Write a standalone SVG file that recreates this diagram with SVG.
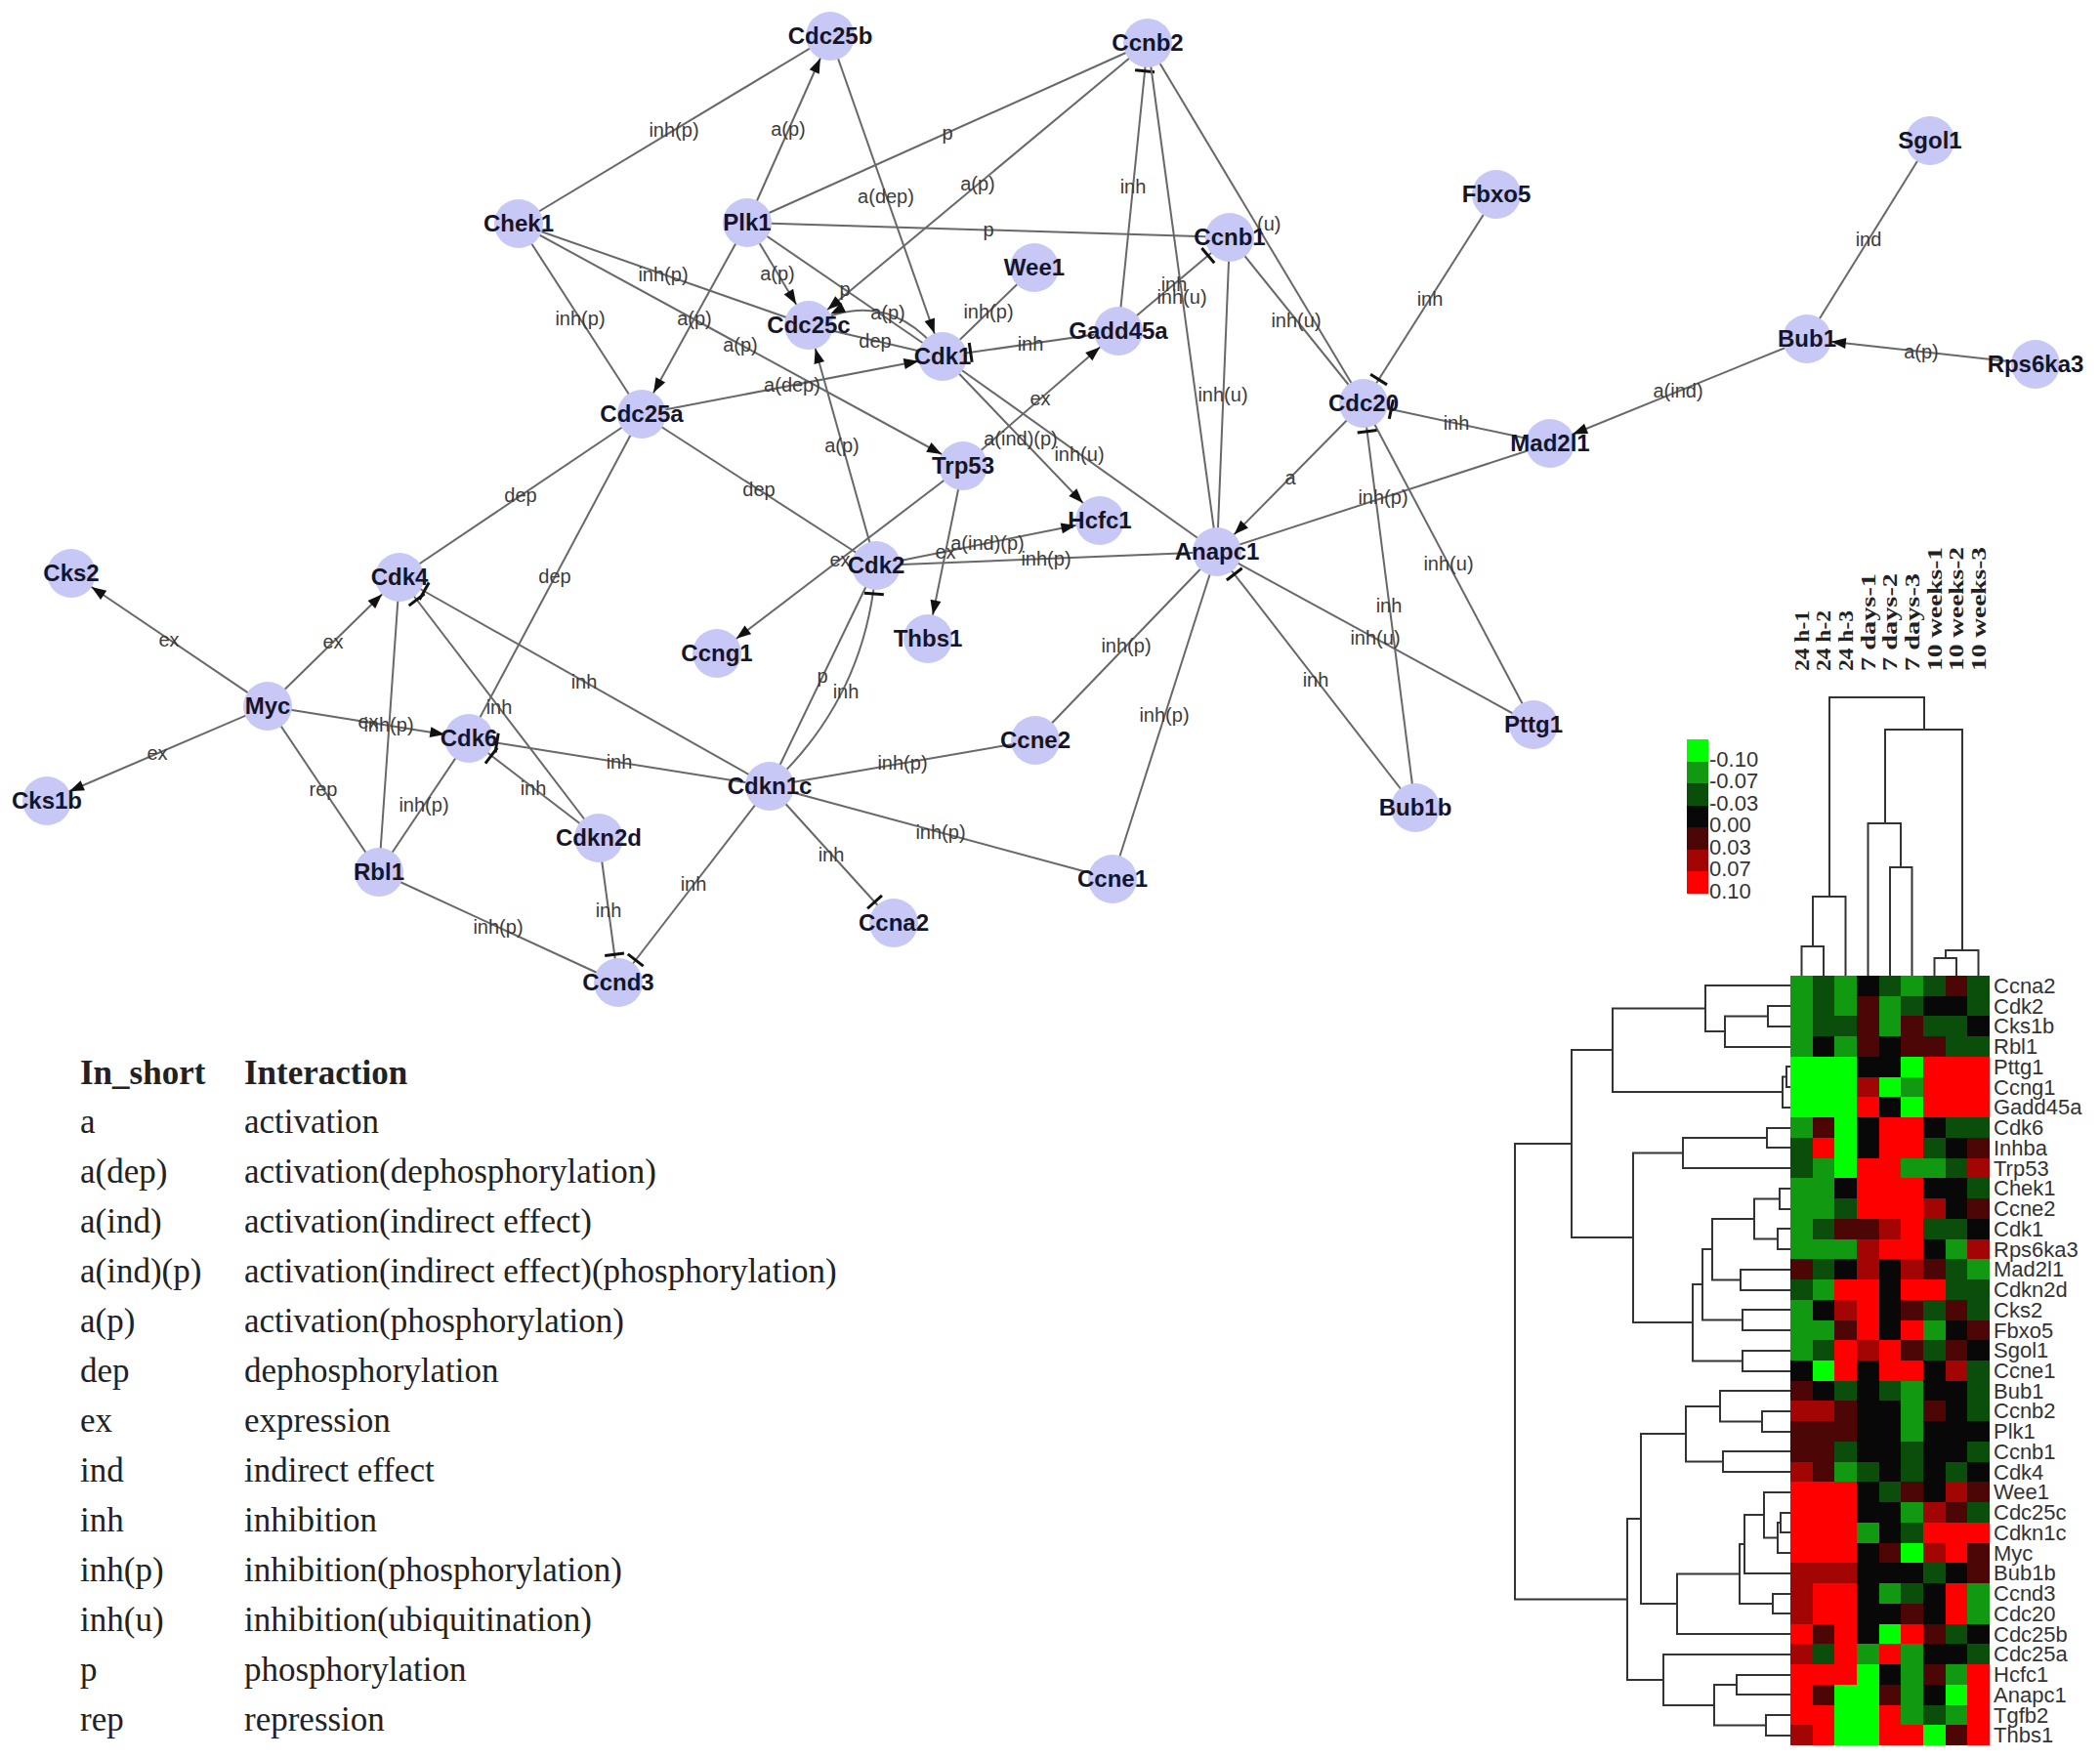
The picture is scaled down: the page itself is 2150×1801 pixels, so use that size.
<svg xmlns="http://www.w3.org/2000/svg" xmlns:xlink="http://www.w3.org/1999/xlink" width="2150" height="1801" viewBox="0 0 2150 1801">
<style>
.e{fill:none;stroke:#686868;stroke-width:2}
.el{font-family:"Liberation Sans",Arial,sans-serif;font-size:20px;fill:#3c3c3c;text-anchor:middle}
.nd{fill:#c8c8f6}
.nl{font-family:"Liberation Sans",Arial,sans-serif;font-size:24px;font-weight:bold;fill:#15152a;text-anchor:middle}
.lg{font-family:"Liberation Serif","Times New Roman",serif;font-size:35px;fill:#222}
.lgh{font-weight:bold}
.rl{font-family:"Liberation Sans",Arial,sans-serif;font-size:22px;fill:#333}
.cl{font-family:"Liberation Serif","Times New Roman",serif;font-size:22px;font-weight:bold;fill:#222}
.sl{font-family:"Liberation Sans",Arial,sans-serif;font-size:22px;fill:#333}
.dg{fill:none;stroke:#333;stroke-width:2}
.g3{fill:#00ff00}.g2{fill:#119a11}.g1{fill:#0b4d0b}.k{fill:#080808}.r1{fill:#4d0606}.r2{fill:#a30404}.r3{fill:#ff0000}
</style>
<defs>
<marker id="ar" markerUnits="userSpaceOnUse" markerWidth="15" markerHeight="11" refX="40" refY="5.5" orient="auto" overflow="visible"><path d="M0,0 L15,5.5 L0,11 z" fill="#111"/></marker>
<marker id="tb" markerUnits="userSpaceOnUse" markerWidth="4" markerHeight="20" refX="29" refY="10" orient="auto" overflow="visible"><path d="M0,0 V20" stroke="#111" stroke-width="3" fill="none"/></marker>
<rect id="c" width="23" height="21"/>
</defs>

<g id="connectors">
<path class="e" d="M531,229 L850,37"/>
<path class="e" d="M765,228 L850,37" marker-end="url(#ar)"/>
<path class="e" d="M850,37 L965,365" marker-end="url(#ar)"/>
<path class="e" d="M765,228 L1175,44"/>
<path class="e" d="M1175,44 L828,333" marker-end="url(#ar)"/>
<path class="e" d="M1145,339 L1175,44" marker-end="url(#tb)"/>
<path class="e" d="M1175,44 L1246,565"/>
<path class="e" d="M1175,44 L1396,413"/>
<path class="e" d="M765,228 L1259,243"/>
<path class="e" d="M1145,339 L1259,243" marker-end="url(#tb)"/>
<path class="e" d="M1259,243 L1246,565"/>
<path class="e" d="M1259,243 L1396,413"/>
<path class="e" d="M531,229 L828,333"/>
<path class="e" d="M531,229 L986,477" marker-end="url(#ar)"/>
<path class="e" d="M531,229 L657,424"/>
<path class="e" d="M765,228 L657,424" marker-end="url(#ar)"/>
<path class="e" d="M765,228 L828,333" marker-end="url(#ar)"/>
<path class="e" d="M765,228 L965,365"/>
<path class="e" d="M965,365 Q910,291 828,333" marker-end="url(#ar)"/>
<path class="e" d="M828,333 L965,365"/>
<path class="e" d="M1059,274 L965,365"/>
<path class="e" d="M1145,339 L965,365" marker-end="url(#tb)"/>
<path class="e" d="M657,424 L965,365" marker-end="url(#ar)"/>
<path class="e" d="M965,365 L1126,533" marker-end="url(#ar)"/>
<path class="e" d="M965,365 L1246,565"/>
<path class="e" d="M986,477 L1145,339" marker-end="url(#ar)"/>
<path class="e" d="M657,424 L897,579"/>
<path class="e" d="M897,579 L828,333" marker-end="url(#ar)"/>
<path class="e" d="M986,477 L734,669" marker-end="url(#ar)"/>
<path class="e" d="M986,477 L950,654" marker-end="url(#ar)"/>
<path class="e" d="M897,579 L1126,533" marker-end="url(#ar)"/>
<path class="e" d="M897,579 L1246,565"/>
<path class="e" d="M788,805 L897,579"/>
<path class="e" d="M788,805 Q887,714 897,579" marker-end="url(#tb)"/>
<path class="e" d="M657,424 L409,591"/>
<path class="e" d="M657,424 L480,756"/>
<path class="e" d="M274,723 L73,587" marker-end="url(#ar)"/>
<path class="e" d="M274,723 L409,591" marker-end="url(#ar)"/>
<path class="e" d="M274,723 L48,820" marker-end="url(#ar)"/>
<path class="e" d="M274,723 L480,756" marker-end="url(#ar)"/>
<path class="e" d="M409,591 L388,893"/>
<path class="e" d="M274,723 L388,893"/>
<path class="e" d="M388,893 L480,756"/>
<path class="e" d="M788,805 L409,591" marker-end="url(#tb)"/>
<path class="e" d="M613,858 L409,591" marker-end="url(#tb)"/>
<path class="e" d="M788,805 L480,756" marker-end="url(#tb)"/>
<path class="e" d="M613,858 L480,756" marker-end="url(#tb)"/>
<path class="e" d="M613,858 L633,1006" marker-end="url(#tb)"/>
<path class="e" d="M788,805 L633,1006" marker-end="url(#tb)"/>
<path class="e" d="M388,893 L633,1006"/>
<path class="e" d="M788,805 L1060,758"/>
<path class="e" d="M788,805 L1139,900"/>
<path class="e" d="M788,805 L915,945" marker-end="url(#tb)"/>
<path class="e" d="M1246,565 L1060,758"/>
<path class="e" d="M1246,565 L1139,900"/>
<path class="e" d="M1449,827 L1246,565" marker-end="url(#tb)"/>
<path class="e" d="M1246,565 L1570,742"/>
<path class="e" d="M1396,413 L1246,565" marker-end="url(#ar)"/>
<path class="e" d="M1587,454 L1246,565"/>
<path class="e" d="M1587,454 L1396,413" marker-end="url(#tb)"/>
<path class="e" d="M1532,199 L1396,413" marker-end="url(#tb)"/>
<path class="e" d="M1396,413 L1570,742"/>
<path class="e" d="M1449,827 L1396,413" marker-end="url(#tb)"/>
<path class="e" d="M1850,347 L1587,454" marker-end="url(#ar)"/>
<path class="e" d="M2084,373 L1850,347" marker-end="url(#ar)"/>
<path class="e" d="M1976,144 L1850,347"/>

<g id="edge-labels">
<text class="el" x="690" y="140">inh(p)</text>
<text class="el" x="807" y="139">a(p)</text>
<text class="el" x="907" y="208">a(dep)</text>
<text class="el" x="970" y="143">p</text>
<text class="el" x="1001" y="195">a(p)</text>
<text class="el" x="1160" y="198">inh</text>
<text class="el" x="1210" y="311">inh(u)</text>
<text class="el" x="1287" y="236" style="text-anchor:start">(u)</text>
<text class="el" x="1012" y="242">p</text>
<text class="el" x="1202" y="298">inh</text>
<text class="el" x="1252" y="411">inh(u)</text>
<text class="el" x="1327" y="335">inh(u)</text>
<text class="el" x="679" y="288">inh(p)</text>
<text class="el" x="758" y="360">a(p)</text>
<text class="el" x="594" y="333">inh(p)</text>
<text class="el" x="711" y="333">a(p)</text>
<text class="el" x="796" y="287">a(p)</text>
<text class="el" x="865" y="303">p</text>
<text class="el" x="909" y="327">a(p)</text>
<text class="el" x="896" y="356">dep</text>
<text class="el" x="1012" y="326">inh(p)</text>
<text class="el" x="1055" y="359">inh</text>
<text class="el" x="811" y="401">a(dep)</text>
<text class="el" x="1045" y="456">a(ind)(p)</text>
<text class="el" x="1105" y="472">inh(u)</text>
<text class="el" x="1065" y="415">ex</text>
<text class="el" x="777" y="508">dep</text>
<text class="el" x="862" y="463">a(p)</text>
<text class="el" x="860" y="580">ex</text>
<text class="el" x="968" y="572">ex</text>
<text class="el" x="1011" y="563">a(ind)(p)</text>
<text class="el" x="1071" y="579">inh(p)</text>
<text class="el" x="842" y="699">p</text>
<text class="el" x="866" y="715">inh</text>
<text class="el" x="533" y="514">dep</text>
<text class="el" x="568" y="597">dep</text>
<text class="el" x="173" y="662">ex</text>
<text class="el" x="341" y="664">ex</text>
<text class="el" x="161" y="778">ex</text>
<text class="el" x="377" y="746">ex</text>
<text class="el" x="398" y="749">inh(p)</text>
<text class="el" x="331" y="815">rep</text>
<text class="el" x="434" y="831">inh(p)</text>
<text class="el" x="598" y="705">inh</text>
<text class="el" x="511" y="731">inh</text>
<text class="el" x="634" y="787">inh</text>
<text class="el" x="546" y="814">inh</text>
<text class="el" x="623" y="939">inh</text>
<text class="el" x="710" y="912">inh</text>
<text class="el" x="510" y="956">inh(p)</text>
<text class="el" x="924" y="788">inh(p)</text>
<text class="el" x="963" y="859">inh(p)</text>
<text class="el" x="851" y="882">inh</text>
<text class="el" x="1153" y="668">inh(p)</text>
<text class="el" x="1192" y="739">inh(p)</text>
<text class="el" x="1347" y="703">inh</text>
<text class="el" x="1408" y="660">inh(u)</text>
<text class="el" x="1321" y="496">a</text>
<text class="el" x="1416" y="516">inh(p)</text>
<text class="el" x="1491" y="440">inh</text>
<text class="el" x="1464" y="313">inh</text>
<text class="el" x="1483" y="584">inh(u)</text>
<text class="el" x="1422" y="627">inh</text>
<text class="el" x="1718" y="407">a(ind)</text>
<text class="el" x="1967" y="367">a(p)</text>
<text class="el" x="1913" y="252">ind</text>
</g>
</g>

<g id="nodes">
<g id="n-Cdc25b"><circle class="nd" cx="850" cy="37" r="25"/><text class="nl" x="850" y="45">Cdc25b</text></g>
<g id="n-Ccnb2"><circle class="nd" cx="1175" cy="44" r="25"/><text class="nl" x="1175" y="52">Ccnb2</text></g>
<g id="n-Chek1"><circle class="nd" cx="531" cy="229" r="25"/><text class="nl" x="531" y="237">Chek1</text></g>
<g id="n-Plk1"><circle class="nd" cx="765" cy="228" r="25"/><text class="nl" x="765" y="236">Plk1</text></g>
<g id="n-Ccnb1"><circle class="nd" cx="1259" cy="243" r="25"/><text class="nl" x="1259" y="251">Ccnb1</text></g>
<g id="n-Fbxo5"><circle class="nd" cx="1532" cy="199" r="25"/><text class="nl" x="1532" y="207">Fbxo5</text></g>
<g id="n-Sgol1"><circle class="nd" cx="1976" cy="144" r="25"/><text class="nl" x="1976" y="152">Sgol1</text></g>
<g id="n-Wee1"><circle class="nd" cx="1059" cy="274" r="25"/><text class="nl" x="1059" y="282">Wee1</text></g>
<g id="n-Cdc25c"><circle class="nd" cx="828" cy="333" r="25"/><text class="nl" x="828" y="341">Cdc25c</text></g>
<g id="n-Cdk1"><circle class="nd" cx="965" cy="365" r="25"/><text class="nl" x="965" y="373">Cdk1</text></g>
<g id="n-Gadd45a"><circle class="nd" cx="1145" cy="339" r="25"/><text class="nl" x="1145" y="347">Gadd45a</text></g>
<g id="n-Bub1"><circle class="nd" cx="1850" cy="347" r="25"/><text class="nl" x="1850" y="355">Bub1</text></g>
<g id="n-Rps6ka3"><circle class="nd" cx="2084" cy="373" r="25"/><text class="nl" x="2084" y="381">Rps6ka3</text></g>
<g id="n-Cdc20"><circle class="nd" cx="1396" cy="413" r="25"/><text class="nl" x="1396" y="421">Cdc20</text></g>
<g id="n-Mad2l1"><circle class="nd" cx="1587" cy="454" r="25"/><text class="nl" x="1587" y="462">Mad2l1</text></g>
<g id="n-Cdc25a"><circle class="nd" cx="657" cy="424" r="25"/><text class="nl" x="657" y="432">Cdc25a</text></g>
<g id="n-Trp53"><circle class="nd" cx="986" cy="477" r="25"/><text class="nl" x="986" y="485">Trp53</text></g>
<g id="n-Hcfc1"><circle class="nd" cx="1126" cy="533" r="25"/><text class="nl" x="1126" y="541">Hcfc1</text></g>
<g id="n-Anapc1"><circle class="nd" cx="1246" cy="565" r="25"/><text class="nl" x="1246" y="573">Anapc1</text></g>
<g id="n-Cks2"><circle class="nd" cx="73" cy="587" r="25"/><text class="nl" x="73" y="595">Cks2</text></g>
<g id="n-Cdk4"><circle class="nd" cx="409" cy="591" r="25"/><text class="nl" x="409" y="599">Cdk4</text></g>
<g id="n-Cdk2"><circle class="nd" cx="897" cy="579" r="25"/><text class="nl" x="897" y="587">Cdk2</text></g>
<g id="n-Thbs1"><circle class="nd" cx="950" cy="654" r="25"/><text class="nl" x="950" y="662">Thbs1</text></g>
<g id="n-Ccng1"><circle class="nd" cx="734" cy="669" r="25"/><text class="nl" x="734" y="677">Ccng1</text></g>
<g id="n-Myc"><circle class="nd" cx="274" cy="723" r="25"/><text class="nl" x="274" y="731">Myc</text></g>
<g id="n-Cdk6"><circle class="nd" cx="480" cy="756" r="25"/><text class="nl" x="480" y="764">Cdk6</text></g>
<g id="n-Ccne2"><circle class="nd" cx="1060" cy="758" r="25"/><text class="nl" x="1060" y="766">Ccne2</text></g>
<g id="n-Pttg1"><circle class="nd" cx="1570" cy="742" r="25"/><text class="nl" x="1570" y="750">Pttg1</text></g>
<g id="n-Cdkn1c"><circle class="nd" cx="788" cy="805" r="25"/><text class="nl" x="788" y="813">Cdkn1c</text></g>
<g id="n-Cks1b"><circle class="nd" cx="48" cy="820" r="25"/><text class="nl" x="48" y="828">Cks1b</text></g>
<g id="n-Bub1b"><circle class="nd" cx="1449" cy="827" r="25"/><text class="nl" x="1449" y="835">Bub1b</text></g>
<g id="n-Cdkn2d"><circle class="nd" cx="613" cy="858" r="25"/><text class="nl" x="613" y="866">Cdkn2d</text></g>
<g id="n-Rbl1"><circle class="nd" cx="388" cy="893" r="25"/><text class="nl" x="388" y="901">Rbl1</text></g>
<g id="n-Ccne1"><circle class="nd" cx="1139" cy="900" r="25"/><text class="nl" x="1139" y="908">Ccne1</text></g>
<g id="n-Ccna2"><circle class="nd" cx="915" cy="945" r="25"/><text class="nl" x="915" y="953">Ccna2</text></g>
<g id="n-Ccnd3"><circle class="nd" cx="633" cy="1006" r="25"/><text class="nl" x="633" y="1014">Ccnd3</text></g>
</g>

<g id="legend-table">
<text class="lg lgh" x="82" y="1110">In_short</text>
<text class="lg lgh" x="250" y="1110">Interaction</text>
<text class="lg" x="82" y="1160">a</text><text class="lg" x="250" y="1160">activation</text>
<text class="lg" x="82" y="1211">a(dep)</text><text class="lg" x="250" y="1211">activation(dephosphorylation)</text>
<text class="lg" x="82" y="1262">a(ind)</text><text class="lg" x="250" y="1262">activation(indirect effect)</text>
<text class="lg" x="82" y="1313">a(ind)(p)</text><text class="lg" x="250" y="1313">activation(indirect effect)(phosphorylation)</text>
<text class="lg" x="82" y="1364">a(p)</text><text class="lg" x="250" y="1364">activation(phosphorylation)</text>
<text class="lg" x="82" y="1415">dep</text><text class="lg" x="250" y="1415">dephosphorylation</text>
<text class="lg" x="82" y="1466">ex</text><text class="lg" x="250" y="1466">expression</text>
<text class="lg" x="82" y="1517">ind</text><text class="lg" x="250" y="1517">indirect effect</text>
<text class="lg" x="82" y="1568">inh</text><text class="lg" x="250" y="1568">inhibition</text>
<text class="lg" x="82" y="1619">inh(p)</text><text class="lg" x="250" y="1619">inhibition(phosphorylation)</text>
<text class="lg" x="82" y="1670">inh(u)</text><text class="lg" x="250" y="1670">inhibition(ubiquitination)</text>
<text class="lg" x="82" y="1721">p</text><text class="lg" x="250" y="1721">phosphorylation</text>
<text class="lg" x="82" y="1772">rep</text><text class="lg" x="250" y="1772">repression</text>
</g>

<g id="color-scale">
<rect class="g3" x="1727" y="757" width="22" height="23"/>
<rect class="g2" x="1727" y="780" width="22" height="22"/>
<rect class="g1" x="1727" y="802" width="22" height="23"/>
<rect class="k" x="1727" y="825" width="22" height="22"/>
<rect class="r1" x="1727" y="847" width="22" height="23"/>
<rect class="r2" x="1727" y="870" width="22" height="22"/>
<rect class="r3" x="1727" y="892" width="22" height="23"/>
<text class="sl" x="1750" y="785">-0.10</text>
<text class="sl" x="1750" y="807">-0.07</text>
<text class="sl" x="1750" y="830">-0.03</text>
<text class="sl" x="1750" y="852">0.00</text>
<text class="sl" x="1750" y="875">0.03</text>
<text class="sl" x="1750" y="897">0.07</text>
<text class="sl" x="1750" y="920">0.10</text>
</g>

<g id="column-labels">
<text class="cl" transform="translate(1851.5,687) rotate(-90)" textLength="62" lengthAdjust="spacingAndGlyphs">24 h-1</text>
<text class="cl" transform="translate(1874,687) rotate(-90)" textLength="62" lengthAdjust="spacingAndGlyphs">24 h-2</text>
<text class="cl" transform="translate(1896.5,687) rotate(-90)" textLength="62" lengthAdjust="spacingAndGlyphs">24 h-3</text>
<text class="cl" transform="translate(1919.5,687) rotate(-90)" textLength="100" lengthAdjust="spacingAndGlyphs">7 days-1</text>
<text class="cl" transform="translate(1942,687) rotate(-90)" textLength="100" lengthAdjust="spacingAndGlyphs">7 days-2</text>
<text class="cl" transform="translate(1964.5,687) rotate(-90)" textLength="100" lengthAdjust="spacingAndGlyphs">7 days-3</text>
<text class="cl" transform="translate(1987.5,687) rotate(-90)" textLength="127" lengthAdjust="spacingAndGlyphs">10 weeks-1</text>
<text class="cl" transform="translate(2010,687) rotate(-90)" textLength="127" lengthAdjust="spacingAndGlyphs">10 weeks-2</text>
<text class="cl" transform="translate(2032.5,687) rotate(-90)" textLength="127" lengthAdjust="spacingAndGlyphs">10 weeks-3</text>
</g>

<g id="column-dendrogram">
<path class="dg" d="M1844.5,999 V969 H1867 V999 M1856,969 V918 H1889.5 V999 M1935,999 V888 H1957.5 V999 M1912.5,999 V843 H1946 V888 M1980.5,999 V981 H2003 V999 M1992,981 V973 H2025.5 V999 M1930,843 V747 H2009 V973 M1873,918 V714 H1970 V747"/>
</g>

<g id="row-dendrogram">
<path class="dg" d="M1833,1030 H1810 V1051 H1833 M1810,1040.5 H1766 V1072 H1833 M1833,1009 H1746 V1056 H1766 M1833,1092 H1829 V1113 H1833 M1829,1102.5 H1825 V1134 H1833 M1746,1032.5 H1651 V1118 H1825 M1833,1155 H1809 V1175 H1833 M1809,1165 H1723 V1196 H1833 M1833,1217 H1822 V1238 H1833 M1833,1258 H1820 V1279 H1833 M1822,1227.5 H1796 V1268.5 H1820 M1833,1300 H1782 V1321 H1833 M1796,1248 H1753 V1310.5 H1782 M1833,1341 H1784 V1362 H1833 M1753,1279 H1743 V1351.5 H1784 M1833,1383 H1784 V1404 H1833 M1743,1315 H1733 V1393.5 H1784 M1723,1180.5 H1672 V1354 H1733 M1651,1075 H1609 V1267 H1672 M1833,1445 H1804 V1466 H1833 M1833,1424 H1761 V1455.5 H1804 M1833,1486 H1764 V1507 H1833 M1761,1440 H1726 V1496.5 H1764 M1833,1549 H1823 V1569 H1833 M1823,1559 H1820 V1590 H1833 M1833,1528 H1806 V1574.5 H1820 M1806,1551 H1786 V1611 H1833 M1833,1632 H1815 V1652 H1833 M1786,1581 H1781 V1642 H1815 M1781,1611.5 H1717 V1673 H1833 M1726,1468 H1680 V1642 H1717 M1833,1715 H1778 V1735 H1833 M1833,1756 H1808 V1777 H1833 M1778,1725 H1755 V1766.5 H1808 M1833,1694 H1703 V1746 H1755 M1680,1555 H1666 V1720 H1703 M1609,1171 H1551 V1637.5 H1666"/>
</g>

<g id="heatmap">
<g transform="translate(0,999)"><use href="#c" x="1833" class="g2"/><use href="#c" x="1856" class="g1"/><use href="#c" x="1878" class="g2"/><use href="#c" x="1901" class="k"/><use href="#c" x="1924" class="g1"/><use href="#c" x="1946" class="g2"/><use href="#c" x="1969" class="g1"/><use href="#c" x="1992" class="r1"/><use href="#c" x="2014" class="g1"/></g>
<g transform="translate(0,1020)"><use href="#c" x="1833" class="g2"/><use href="#c" x="1856" class="g1"/><use href="#c" x="1878" class="g2"/><use href="#c" x="1901" class="r1"/><use href="#c" x="1924" class="g2"/><use href="#c" x="1946" class="g1"/><use href="#c" x="1969" class="k"/><use href="#c" x="1992" class="k"/><use href="#c" x="2014" class="g1"/></g>
<g transform="translate(0,1040)"><use href="#c" x="1833" class="g2"/><use href="#c" x="1856" class="g1"/><use href="#c" x="1878" class="g1"/><use href="#c" x="1901" class="r1"/><use href="#c" x="1924" class="g2"/><use href="#c" x="1946" class="r1"/><use href="#c" x="1969" class="g1"/><use href="#c" x="1992" class="g1"/><use href="#c" x="2014" class="k"/></g>
<g transform="translate(0,1061)"><use href="#c" x="1833" class="g2"/><use href="#c" x="1856" class="k"/><use href="#c" x="1878" class="g2"/><use href="#c" x="1901" class="r1"/><use href="#c" x="1924" class="k"/><use href="#c" x="1946" class="r1"/><use href="#c" x="1969" class="r1"/><use href="#c" x="1992" class="g1"/><use href="#c" x="2014" class="g1"/></g>
<g transform="translate(0,1082)"><use href="#c" x="1833" class="g3"/><use href="#c" x="1856" class="g3"/><use href="#c" x="1878" class="g3"/><use href="#c" x="1901" class="k"/><use href="#c" x="1924" class="k"/><use href="#c" x="1946" class="g3"/><use href="#c" x="1969" class="r3"/><use href="#c" x="1992" class="r3"/><use href="#c" x="2014" class="r3"/></g>
<g transform="translate(0,1103)"><use href="#c" x="1833" class="g3"/><use href="#c" x="1856" class="g3"/><use href="#c" x="1878" class="g3"/><use href="#c" x="1901" class="r2"/><use href="#c" x="1924" class="g3"/><use href="#c" x="1946" class="g2"/><use href="#c" x="1969" class="r3"/><use href="#c" x="1992" class="r3"/><use href="#c" x="2014" class="r3"/></g>
<g transform="translate(0,1123)"><use href="#c" x="1833" class="g3"/><use href="#c" x="1856" class="g3"/><use href="#c" x="1878" class="g3"/><use href="#c" x="1901" class="r3"/><use href="#c" x="1924" class="k"/><use href="#c" x="1946" class="g3"/><use href="#c" x="1969" class="r3"/><use href="#c" x="1992" class="r3"/><use href="#c" x="2014" class="r3"/></g>
<g transform="translate(0,1144)"><use href="#c" x="1833" class="g2"/><use href="#c" x="1856" class="r1"/><use href="#c" x="1878" class="g3"/><use href="#c" x="1901" class="k"/><use href="#c" x="1924" class="r3"/><use href="#c" x="1946" class="r3"/><use href="#c" x="1969" class="k"/><use href="#c" x="1992" class="g1"/><use href="#c" x="2014" class="g1"/></g>
<g transform="translate(0,1165)"><use href="#c" x="1833" class="g1"/><use href="#c" x="1856" class="r3"/><use href="#c" x="1878" class="g3"/><use href="#c" x="1901" class="k"/><use href="#c" x="1924" class="r3"/><use href="#c" x="1946" class="r3"/><use href="#c" x="1969" class="g1"/><use href="#c" x="1992" class="k"/><use href="#c" x="2014" class="r1"/></g>
<g transform="translate(0,1186)"><use href="#c" x="1833" class="g1"/><use href="#c" x="1856" class="g2"/><use href="#c" x="1878" class="g3"/><use href="#c" x="1901" class="r3"/><use href="#c" x="1924" class="r3"/><use href="#c" x="1946" class="g2"/><use href="#c" x="1969" class="g2"/><use href="#c" x="1992" class="g1"/><use href="#c" x="2014" class="r2"/></g>
<g transform="translate(0,1206)"><use href="#c" x="1833" class="g2"/><use href="#c" x="1856" class="g2"/><use href="#c" x="1878" class="k"/><use href="#c" x="1901" class="r3"/><use href="#c" x="1924" class="r3"/><use href="#c" x="1946" class="r3"/><use href="#c" x="1969" class="k"/><use href="#c" x="1992" class="k"/><use href="#c" x="2014" class="g1"/></g>
<g transform="translate(0,1227)"><use href="#c" x="1833" class="g2"/><use href="#c" x="1856" class="g2"/><use href="#c" x="1878" class="g1"/><use href="#c" x="1901" class="r3"/><use href="#c" x="1924" class="r3"/><use href="#c" x="1946" class="r3"/><use href="#c" x="1969" class="r2"/><use href="#c" x="1992" class="k"/><use href="#c" x="2014" class="r1"/></g>
<g transform="translate(0,1248)"><use href="#c" x="1833" class="g2"/><use href="#c" x="1856" class="g1"/><use href="#c" x="1878" class="r1"/><use href="#c" x="1901" class="r1"/><use href="#c" x="1924" class="r2"/><use href="#c" x="1946" class="r3"/><use href="#c" x="1969" class="g1"/><use href="#c" x="1992" class="g1"/><use href="#c" x="2014" class="k"/></g>
<g transform="translate(0,1269)"><use href="#c" x="1833" class="g2"/><use href="#c" x="1856" class="g2"/><use href="#c" x="1878" class="g2"/><use href="#c" x="1901" class="r2"/><use href="#c" x="1924" class="r3"/><use href="#c" x="1946" class="r3"/><use href="#c" x="1969" class="k"/><use href="#c" x="1992" class="g2"/><use href="#c" x="2014" class="r2"/></g>
<g transform="translate(0,1289)"><use href="#c" x="1833" class="r1"/><use href="#c" x="1856" class="g1"/><use href="#c" x="1878" class="k"/><use href="#c" x="1901" class="r2"/><use href="#c" x="1924" class="k"/><use href="#c" x="1946" class="r2"/><use href="#c" x="1969" class="r1"/><use href="#c" x="1992" class="g1"/><use href="#c" x="2014" class="g2"/></g>
<g transform="translate(0,1310)"><use href="#c" x="1833" class="g1"/><use href="#c" x="1856" class="g2"/><use href="#c" x="1878" class="r3"/><use href="#c" x="1901" class="r3"/><use href="#c" x="1924" class="k"/><use href="#c" x="1946" class="r3"/><use href="#c" x="1969" class="r3"/><use href="#c" x="1992" class="g1"/><use href="#c" x="2014" class="g1"/></g>
<g transform="translate(0,1331)"><use href="#c" x="1833" class="g2"/><use href="#c" x="1856" class="k"/><use href="#c" x="1878" class="r2"/><use href="#c" x="1901" class="r3"/><use href="#c" x="1924" class="k"/><use href="#c" x="1946" class="r1"/><use href="#c" x="1969" class="g1"/><use href="#c" x="1992" class="r1"/><use href="#c" x="2014" class="g1"/></g>
<g transform="translate(0,1352)"><use href="#c" x="1833" class="g2"/><use href="#c" x="1856" class="g2"/><use href="#c" x="1878" class="r1"/><use href="#c" x="1901" class="r3"/><use href="#c" x="1924" class="k"/><use href="#c" x="1946" class="r3"/><use href="#c" x="1969" class="g2"/><use href="#c" x="1992" class="k"/><use href="#c" x="2014" class="r1"/></g>
<g transform="translate(0,1372)"><use href="#c" x="1833" class="g2"/><use href="#c" x="1856" class="g1"/><use href="#c" x="1878" class="r3"/><use href="#c" x="1901" class="r2"/><use href="#c" x="1924" class="r3"/><use href="#c" x="1946" class="r1"/><use href="#c" x="1969" class="g1"/><use href="#c" x="1992" class="r1"/><use href="#c" x="2014" class="k"/></g>
<g transform="translate(0,1393)"><use href="#c" x="1833" class="k"/><use href="#c" x="1856" class="g3"/><use href="#c" x="1878" class="r3"/><use href="#c" x="1901" class="k"/><use href="#c" x="1924" class="r3"/><use href="#c" x="1946" class="r3"/><use href="#c" x="1969" class="k"/><use href="#c" x="1992" class="r2"/><use href="#c" x="2014" class="g1"/></g>
<g transform="translate(0,1414)"><use href="#c" x="1833" class="r1"/><use href="#c" x="1856" class="k"/><use href="#c" x="1878" class="g1"/><use href="#c" x="1901" class="k"/><use href="#c" x="1924" class="g1"/><use href="#c" x="1946" class="g2"/><use href="#c" x="1969" class="k"/><use href="#c" x="1992" class="k"/><use href="#c" x="2014" class="g1"/></g>
<g transform="translate(0,1434)"><use href="#c" x="1833" class="r2"/><use href="#c" x="1856" class="r2"/><use href="#c" x="1878" class="r1"/><use href="#c" x="1901" class="k"/><use href="#c" x="1924" class="k"/><use href="#c" x="1946" class="g2"/><use href="#c" x="1969" class="r1"/><use href="#c" x="1992" class="k"/><use href="#c" x="2014" class="g1"/></g>
<g transform="translate(0,1455)"><use href="#c" x="1833" class="r1"/><use href="#c" x="1856" class="r1"/><use href="#c" x="1878" class="r1"/><use href="#c" x="1901" class="k"/><use href="#c" x="1924" class="k"/><use href="#c" x="1946" class="g2"/><use href="#c" x="1969" class="k"/><use href="#c" x="1992" class="k"/><use href="#c" x="2014" class="k"/></g>
<g transform="translate(0,1476)"><use href="#c" x="1833" class="r1"/><use href="#c" x="1856" class="r1"/><use href="#c" x="1878" class="g1"/><use href="#c" x="1901" class="k"/><use href="#c" x="1924" class="k"/><use href="#c" x="1946" class="g1"/><use href="#c" x="1969" class="k"/><use href="#c" x="1992" class="k"/><use href="#c" x="2014" class="g1"/></g>
<g transform="translate(0,1497)"><use href="#c" x="1833" class="r2"/><use href="#c" x="1856" class="r1"/><use href="#c" x="1878" class="g2"/><use href="#c" x="1901" class="g1"/><use href="#c" x="1924" class="k"/><use href="#c" x="1946" class="g1"/><use href="#c" x="1969" class="k"/><use href="#c" x="1992" class="g1"/><use href="#c" x="2014" class="k"/></g>
<g transform="translate(0,1517)"><use href="#c" x="1833" class="r3"/><use href="#c" x="1856" class="r3"/><use href="#c" x="1878" class="r3"/><use href="#c" x="1901" class="k"/><use href="#c" x="1924" class="g1"/><use href="#c" x="1946" class="r1"/><use href="#c" x="1969" class="k"/><use href="#c" x="1992" class="r2"/><use href="#c" x="2014" class="r1"/></g>
<g transform="translate(0,1538)"><use href="#c" x="1833" class="r3"/><use href="#c" x="1856" class="r3"/><use href="#c" x="1878" class="r3"/><use href="#c" x="1901" class="k"/><use href="#c" x="1924" class="k"/><use href="#c" x="1946" class="g2"/><use href="#c" x="1969" class="r2"/><use href="#c" x="1992" class="r1"/><use href="#c" x="2014" class="g1"/></g>
<g transform="translate(0,1559)"><use href="#c" x="1833" class="r3"/><use href="#c" x="1856" class="r3"/><use href="#c" x="1878" class="r3"/><use href="#c" x="1901" class="g2"/><use href="#c" x="1924" class="k"/><use href="#c" x="1946" class="g1"/><use href="#c" x="1969" class="r3"/><use href="#c" x="1992" class="r3"/><use href="#c" x="2014" class="r3"/></g>
<g transform="translate(0,1580)"><use href="#c" x="1833" class="r3"/><use href="#c" x="1856" class="r3"/><use href="#c" x="1878" class="r3"/><use href="#c" x="1901" class="k"/><use href="#c" x="1924" class="r1"/><use href="#c" x="1946" class="g3"/><use href="#c" x="1969" class="r2"/><use href="#c" x="1992" class="r3"/><use href="#c" x="2014" class="r1"/></g>
<g transform="translate(0,1600)"><use href="#c" x="1833" class="r2"/><use href="#c" x="1856" class="r2"/><use href="#c" x="1878" class="r2"/><use href="#c" x="1901" class="k"/><use href="#c" x="1924" class="k"/><use href="#c" x="1946" class="k"/><use href="#c" x="1969" class="g1"/><use href="#c" x="1992" class="k"/><use href="#c" x="2014" class="r1"/></g>
<g transform="translate(0,1621)"><use href="#c" x="1833" class="r2"/><use href="#c" x="1856" class="r3"/><use href="#c" x="1878" class="r3"/><use href="#c" x="1901" class="k"/><use href="#c" x="1924" class="g2"/><use href="#c" x="1946" class="g1"/><use href="#c" x="1969" class="k"/><use href="#c" x="1992" class="r3"/><use href="#c" x="2014" class="g2"/></g>
<g transform="translate(0,1642)"><use href="#c" x="1833" class="r2"/><use href="#c" x="1856" class="r3"/><use href="#c" x="1878" class="r3"/><use href="#c" x="1901" class="k"/><use href="#c" x="1924" class="k"/><use href="#c" x="1946" class="r1"/><use href="#c" x="1969" class="k"/><use href="#c" x="1992" class="r3"/><use href="#c" x="2014" class="g2"/></g>
<g transform="translate(0,1663)"><use href="#c" x="1833" class="r3"/><use href="#c" x="1856" class="r1"/><use href="#c" x="1878" class="r3"/><use href="#c" x="1901" class="k"/><use href="#c" x="1924" class="g3"/><use href="#c" x="1946" class="r3"/><use href="#c" x="1969" class="r1"/><use href="#c" x="1992" class="g1"/><use href="#c" x="2014" class="k"/></g>
<g transform="translate(0,1683)"><use href="#c" x="1833" class="r2"/><use href="#c" x="1856" class="g1"/><use href="#c" x="1878" class="r3"/><use href="#c" x="1901" class="g2"/><use href="#c" x="1924" class="r3"/><use href="#c" x="1946" class="g2"/><use href="#c" x="1969" class="k"/><use href="#c" x="1992" class="k"/><use href="#c" x="2014" class="g1"/></g>
<g transform="translate(0,1704)"><use href="#c" x="1833" class="r3"/><use href="#c" x="1856" class="r3"/><use href="#c" x="1878" class="r3"/><use href="#c" x="1901" class="g3"/><use href="#c" x="1924" class="k"/><use href="#c" x="1946" class="g2"/><use href="#c" x="1969" class="r1"/><use href="#c" x="1992" class="g2"/><use href="#c" x="2014" class="r3"/></g>
<g transform="translate(0,1725)"><use href="#c" x="1833" class="r3"/><use href="#c" x="1856" class="r1"/><use href="#c" x="1878" class="g3"/><use href="#c" x="1901" class="g3"/><use href="#c" x="1924" class="r1"/><use href="#c" x="1946" class="g2"/><use href="#c" x="1969" class="k"/><use href="#c" x="1992" class="g3"/><use href="#c" x="2014" class="r3"/></g>
<g transform="translate(0,1746)"><use href="#c" x="1833" class="r3"/><use href="#c" x="1856" class="r3"/><use href="#c" x="1878" class="g3"/><use href="#c" x="1901" class="g3"/><use href="#c" x="1924" class="r3"/><use href="#c" x="1946" class="g2"/><use href="#c" x="1969" class="g1"/><use href="#c" x="1992" class="g2"/><use href="#c" x="2014" class="r3"/></g>
<g transform="translate(0,1766)"><use href="#c" x="1833" class="r2"/><use href="#c" x="1856" class="r3"/><use href="#c" x="1878" class="g3"/><use href="#c" x="1901" class="g3"/><use href="#c" x="1924" class="r3"/><use href="#c" x="1946" class="r3"/><use href="#c" x="1969" class="g3"/><use href="#c" x="1992" class="r1"/><use href="#c" x="2014" class="r3"/></g>
</g>

<g id="row-labels">
<text class="rl" x="2041" y="1017">Ccna2</text>
<text class="rl" x="2041" y="1038">Cdk2</text>
<text class="rl" x="2041" y="1058">Cks1b</text>
<text class="rl" x="2041" y="1079">Rbl1</text>
<text class="rl" x="2041" y="1100">Pttg1</text>
<text class="rl" x="2041" y="1121">Ccng1</text>
<text class="rl" x="2041" y="1141">Gadd45a</text>
<text class="rl" x="2041" y="1162">Cdk6</text>
<text class="rl" x="2041" y="1183">Inhba</text>
<text class="rl" x="2041" y="1204">Trp53</text>
<text class="rl" x="2041" y="1224">Chek1</text>
<text class="rl" x="2041" y="1245">Ccne2</text>
<text class="rl" x="2041" y="1266">Cdk1</text>
<text class="rl" x="2041" y="1287">Rps6ka3</text>
<text class="rl" x="2041" y="1307">Mad2l1</text>
<text class="rl" x="2041" y="1328">Cdkn2d</text>
<text class="rl" x="2041" y="1349">Cks2</text>
<text class="rl" x="2041" y="1370">Fbxo5</text>
<text class="rl" x="2041" y="1390">Sgol1</text>
<text class="rl" x="2041" y="1411">Ccne1</text>
<text class="rl" x="2041" y="1432">Bub1</text>
<text class="rl" x="2041" y="1452">Ccnb2</text>
<text class="rl" x="2041" y="1473">Plk1</text>
<text class="rl" x="2041" y="1494">Ccnb1</text>
<text class="rl" x="2041" y="1515">Cdk4</text>
<text class="rl" x="2041" y="1535">Wee1</text>
<text class="rl" x="2041" y="1556">Cdc25c</text>
<text class="rl" x="2041" y="1577">Cdkn1c</text>
<text class="rl" x="2041" y="1598">Myc</text>
<text class="rl" x="2041" y="1618">Bub1b</text>
<text class="rl" x="2041" y="1639">Ccnd3</text>
<text class="rl" x="2041" y="1660">Cdc20</text>
<text class="rl" x="2041" y="1681">Cdc25b</text>
<text class="rl" x="2041" y="1701">Cdc25a</text>
<text class="rl" x="2041" y="1722">Hcfc1</text>
<text class="rl" x="2041" y="1743">Anapc1</text>
<text class="rl" x="2041" y="1764">Tgfb2</text>
<text class="rl" x="2041" y="1784">Thbs1</text>
</g>
</svg>
